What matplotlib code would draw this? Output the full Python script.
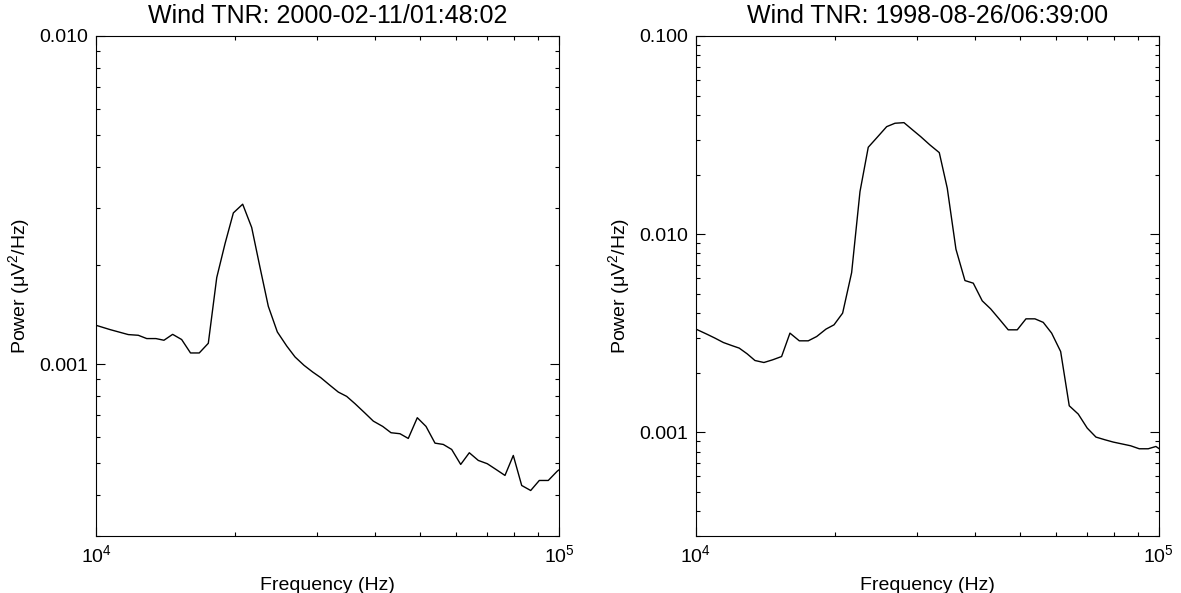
import matplotlib
matplotlib.use("Agg")
import matplotlib.pyplot as plt
from matplotlib.ticker import LogLocator, NullFormatter, FuncFormatter

plt.rcParams["font.family"] = ["Liberation Sans", "DejaVu Sans"]
plt.rcParams["mathtext.fontset"] = "custom"
plt.rcParams["mathtext.rm"] = "Liberation Sans"
plt.rcParams["mathtext.it"] = "Liberation Sans:italic"
plt.rcParams["mathtext.bf"] = "Liberation Sans:bold"

# left panel: 2000-02-11/01:48:02 (frequency in kHz, power in uV^2/Hz)
freq_a = [10.00, 10.72, 11.74, 12.34, 12.87, 13.47, 14.02, 14.64, 15.31, 16.00,
          16.71, 17.48, 18.23, 19.00, 19.80, 20.74, 21.69, 22.61, 23.56, 24.64,
          25.82, 26.91, 28.14, 29.38, 30.58, 32.02, 33.37, 34.79, 36.26, 38.11,
          39.72, 41.62, 43.37, 45.35, 47.26, 49.43, 51.62, 53.98, 56.25, 58.65,
          61.34, 64.02, 66.95, 70.01, 73.11, 76.45, 79.68, 83.08, 86.88, 90.68,
          94.82, 99.16, 103.6]
power_a = [1.315e-3, 1.276e-3, 1.232e-3, 1.226e-3, 1.198e-3, 1.198e-3, 1.184e-3,
           1.234e-3, 1.190e-3, 1.083e-3, 1.083e-3, 1.159e-3, 1.838e-3, 2.333e-3,
           2.892e-3, 3.074e-3, 2.611e-3, 1.971e-3, 1.502e-3, 1.255e-3, 1.137e-3,
           1.053e-3, 9.930e-4, 9.474e-4, 9.109e-4, 8.630e-4, 8.232e-4, 7.987e-4,
           7.588e-4, 7.103e-4, 6.715e-4, 6.470e-4, 6.190e-4, 6.147e-4, 5.947e-4,
           6.877e-4, 6.470e-4, 5.754e-4, 5.702e-4, 5.505e-4, 4.956e-4, 5.379e-4,
           5.097e-4, 4.981e-4, 4.785e-4, 4.588e-4, 5.278e-4, 4.276e-4, 4.128e-4,
           4.429e-4, 4.429e-4, 4.728e-4, 4.950e-4]

# right panel: 1998-08-26/06:39:00
freq_b = [10.00, 10.55, 10.99, 11.46, 11.94, 12.40, 12.90, 13.41, 14.02, 14.64,
          15.31, 15.96, 16.72, 17.48, 18.23, 19.09, 19.87, 20.74, 21.69, 22.61,
          23.56, 24.64, 25.82, 26.91, 28.14, 29.38, 30.58, 32.02, 33.54, 34.90,
          36.44, 38.11, 39.72, 41.53, 43.30, 45.35, 47.26, 49.43, 51.62, 53.98,
          56.25, 58.65, 61.34, 64.02, 66.95, 70.01, 73.11, 76.45, 79.68, 83.49,
          86.88, 90.68, 94.82, 98.52, 103.0]
power_b = [3.319e-3, 3.132e-3, 2.990e-3, 2.841e-3, 2.744e-3, 2.662e-3, 2.491e-3,
           2.305e-3, 2.252e-3, 2.323e-3, 2.414e-3, 3.168e-3, 2.897e-3, 2.897e-3,
           3.046e-3, 3.319e-3, 3.489e-3, 3.997e-3, 6.399e-3, 1.640e-2, 2.746e-2,
           3.085e-2, 3.488e-2, 3.629e-2, 3.654e-2, 3.357e-2, 3.106e-2, 2.820e-2,
           2.580e-2, 1.706e-2, 8.399e-3, 5.834e-3, 5.661e-3, 4.610e-3, 4.201e-3,
           3.697e-3, 3.292e-3, 3.292e-3, 3.740e-3, 3.740e-3, 3.590e-3, 3.168e-3,
           2.558e-3, 1.362e-3, 1.237e-3, 1.051e-3, 9.469e-4, 9.177e-4, 8.935e-4,
           8.730e-4, 8.559e-4, 8.266e-4, 8.266e-4, 8.490e-4, 7.900e-4]

titles = ["Wind TNR: 2000-02-11/01:48:02", "Wind TNR: 1998-08-26/06:39:00"]
ylims = [(3e-4, 1e-2), (3e-4, 1e-1)]


def setup_axis(ax, title, ylim):
    """Style one panel like the IDL plot."""
    ax.set_xscale("log")
    ax.set_yscale("log")
    ax.set_xlim(1e4, 1e5)
    ax.set_ylim(*ylim)
    ax.set_title(title, fontsize=18, pad=9)
    ax.set_xlabel("Frequency (Hz)", fontsize=14, labelpad=8)
    ax.set_ylabel("Power (μV$^2$/Hz)", fontsize=14, labelpad=5)
    ax.xaxis.set_major_locator(LogLocator(base=10))
    ax.xaxis.set_minor_locator(LogLocator(base=10, subs=range(2, 10)))
    ax.yaxis.set_major_locator(LogLocator(base=10))
    ax.yaxis.set_minor_locator(LogLocator(base=10, subs=range(2, 10)))
    ax.xaxis.set_minor_formatter(NullFormatter())
    ax.yaxis.set_minor_formatter(NullFormatter())
    ax.yaxis.set_major_formatter(FuncFormatter(lambda v, p: "%.3f" % v))
    ax.tick_params(which="both", direction="in", top=True, right=True,
                   labelsize=14, width=0.8)
    ax.tick_params(which="major", length=6.5, pad=6)
    ax.tick_params(which="minor", length=3.2)
    for sp in ax.spines.values():
        sp.set_linewidth(0.8)


fig = plt.figure(figsize=(11.81, 5.93), dpi=100)
ax1 = fig.add_axes([0.0813, 0.0961, 0.3920, 0.8432])
ax2 = fig.add_axes([0.5893, 0.0961, 0.3920, 0.8432])

ax1.plot([f * 1e3 for f in freq_a], power_a, color="black", lw=1.0)
ax2.plot([f * 1e3 for f in freq_b], power_b, color="black", lw=1.0)

setup_axis(ax1, titles[0], ylims[0])
setup_axis(ax2, titles[1], ylims[1])

fig.savefig("out.png", dpi=100)
